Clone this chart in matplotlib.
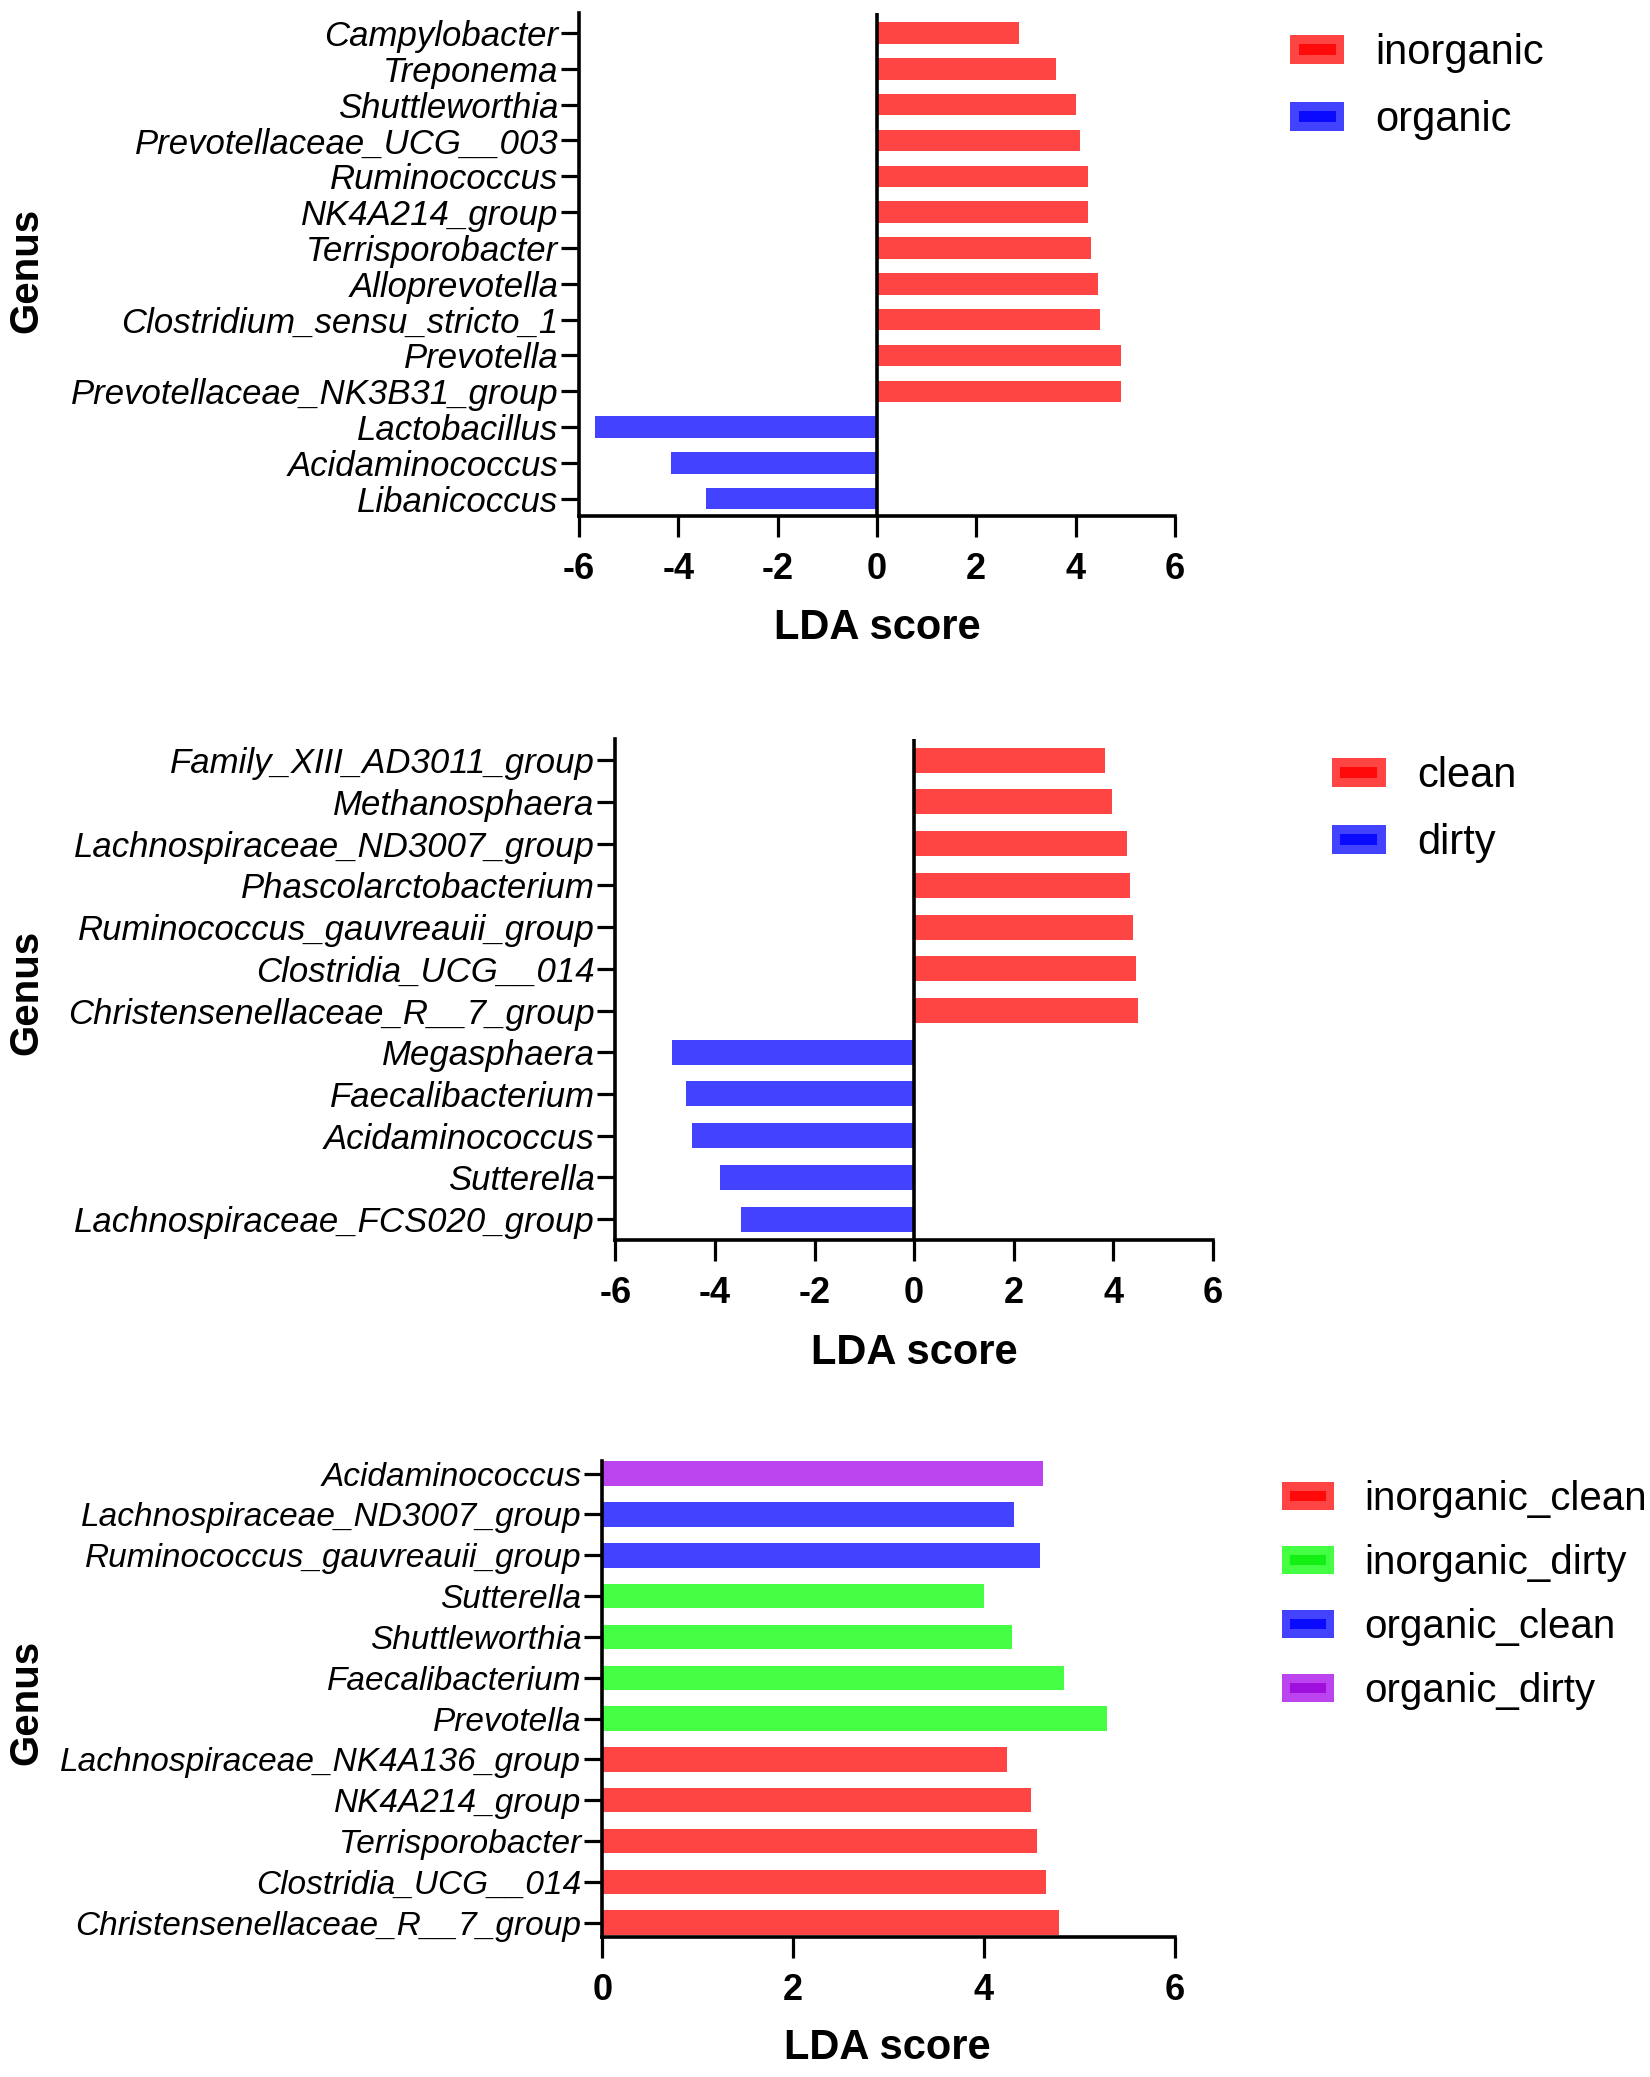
import matplotlib
matplotlib.use("Agg")
import matplotlib.pyplot as plt
from matplotlib.patches import Patch, Rectangle

plt.rcParams['font.family'] = ['Liberation Sans', 'DejaVu Sans']
plt.rcParams['axes.unicode_minus'] = False

# --- Данные (сверху вниз, как на рисунке) ---
top_genus = ["Campylobacter", "Treponema", "Shuttleworthia", "Prevotellaceae_UCG__003",
             "Ruminococcus", "NK4A214_group", "Terrisporobacter", "Alloprevotella",
             "Clostridium_sensu_stricto_1", "Prevotella", "Prevotellaceae_NK3B31_group",
             "Lactobacillus", "Acidaminococcus", "Libanicoccus"]
top_lda = [2.86, 3.6, 4.0, 4.1, 4.25, 4.25, 4.32, 4.45, 4.5, 4.92, 4.92, -5.69, -4.14, -3.45]
top_groups = ["inorganic", "organic"]

mid_genus = ["Family_XIII_AD3011_group", "Methanosphaera", "Lachnospiraceae_ND3007_group",
             "Phascolarctobacterium", "Ruminococcus_gauvreauii_group", "Clostridia_UCG__014",
             "Christensenellaceae_R__7_group", "Megasphaera", "Faecalibacterium",
             "Acidaminococcus", "Sutterella", "Lachnospiraceae_FCS020_group"]
mid_lda = [3.83, 3.98, 4.27, 4.33, 4.39, 4.46, 4.5, -4.86, -4.58, -4.46, -3.9, -3.47]
mid_groups = ["clean", "dirty"]

bot_genus = ["Acidaminococcus", "Lachnospiraceae_ND3007_group", "Ruminococcus_gauvreauii_group",
             "Sutterella", "Shuttleworthia", "Faecalibacterium", "Prevotella",
             "Lachnospiraceae_NK4A136_group", "NK4A214_group", "Terrisporobacter",
             "Clostridia_UCG__014", "Christensenellaceae_R__7_group"]
bot_lda = [4.62, 4.31, 4.59, 4.0, 4.29, 4.84, 5.29, 4.24, 4.49, 4.56, 4.65, 4.79]
bot_class = ["organic_dirty", "organic_clean", "organic_clean",
             "inorganic_dirty", "inorganic_dirty", "inorganic_dirty", "inorganic_dirty",
             "inorganic_clean", "inorganic_clean", "inorganic_clean", "inorganic_clean",
             "inorganic_clean"]
bot_groups = ["inorganic_clean", "inorganic_dirty", "organic_clean", "organic_dirty"]

# цвета: (заливка, внутренняя полоса в легенде)
RED = ('#ff4444', '#ff0a0a')
BLUE = ('#4343ff', '#0a0aff')
GREEN = ('#44ff44', '#14f014')
PURPLE = ('#bb44ee', '#a010dd')
bot_colors = {"inorganic_clean": RED, "inorganic_dirty": GREEN,
              "organic_clean": BLUE, "organic_dirty": PURPLE}


class BoxHandler:
    """Прямоугольник с тёмной полосой внутри, как в GraphPad."""
    def legend_artist(self, legend, orig_handle, fontsize, handlebox):
        x0, y0 = handlebox.xdescent, handlebox.ydescent
        w, h = handlebox.width, handlebox.height
        tr = handlebox.get_transform()
        outer = Rectangle((x0, y0), w, h, facecolor=orig_handle.get_facecolor(),
                          edgecolor='none', transform=tr)
        inner = Rectangle((x0 + 0.16 * w, y0 + 0.32 * h), 0.68 * w, 0.36 * h,
                          facecolor=orig_handle.get_edgecolor(), edgecolor='none', transform=tr)
        handlebox.add_artist(outer)
        handlebox.add_artist(inner)
        return outer


def style_axes(ax, genus, xlim, ylim, xticks, yfs=25):
    n = len(genus)
    ax.set_yticks(range(n))
    ax.set_yticklabels(genus[::-1], fontstyle='italic', fontsize=yfs)
    ax.set_xlim(*xlim)
    ax.set_ylim(*ylim)
    ax.set_xticks(xticks)
    ax.set_xticklabels([str(t) for t in xticks], fontweight='bold', fontsize=26)
    for s in ['top', 'right']:
        ax.spines[s].set_visible(False)
    for s in ['left', 'bottom']:
        ax.spines[s].set_linewidth(2.6)
    ax.tick_params(axis='y', length=13, width=2.3, pad=2)
    ax.tick_params(axis='x', length=15, width=2.3, pad=11)


def add_legend(fig, labels, colors, x, y, fs):
    handles = [Patch(facecolor=c[0], edgecolor=c[1]) for c in colors]
    fig.legend(handles, labels, loc='upper left', bbox_to_anchor=(x, y),
               bbox_transform=fig.transFigure, frameon=False, fontsize=fs,
               handler_map={Patch: BoxHandler()}, handlelength=1.3, handleheight=0.7,
               handletextpad=0.75, labelspacing=0.65, borderpad=0, borderaxespad=0)


fig = plt.figure(figsize=(16.5, 20.77), dpi=100)

# --- Панель 1 ---
ax1 = fig.add_axes([0.351, 0.7516, 0.361, 0.242])
n = len(top_genus)
ax1.barh([n - 1 - i for i in range(n)], top_lda, height=0.6,
         color=[RED[0] if v > 0 else BLUE[0] for v in top_lda])
ax1.axvline(0, color='black', lw=2.6)
style_axes(ax1, top_genus, (-6, 6), (-0.48, 13.55), [-6, -4, -2, 0, 2, 4, 6])
add_legend(fig, top_groups, [RED, BLUE], 0.782, 0.984, 30)

# --- Панель 2 ---
ax2 = fig.add_axes([0.373, 0.403, 0.362, 0.241])
n = len(mid_genus)
ax2.barh([n - 1 - i for i in range(n)], mid_lda, height=0.6,
         color=[RED[0] if v > 0 else BLUE[0] for v in mid_lda])
ax2.axvline(0, color='black', lw=2.6)
style_axes(ax2, mid_genus, (-6, 6), (-0.5, 11.5), [-6, -4, -2, 0, 2, 4, 6])
add_legend(fig, mid_groups, [RED, BLUE], 0.807, 0.636, 30)

# --- Панель 3 ---
ax3 = fig.add_axes([0.365, 0.0674, 0.347, 0.229])
n = len(bot_genus)
ax3.barh([n - 1 - i for i in range(n)], bot_lda, height=0.6,
         color=[bot_colors[c][0] for c in bot_class])
style_axes(ax3, bot_genus, (0, 6), (-0.35, 11.3), [0, 2, 4, 6], yfs=24)
add_legend(fig, bot_groups, [bot_colors[g] for g in bot_groups], 0.777, 0.2875, 29)

# --- Подписи осей ---
for y in [0.870, 0.522, 0.1805]:
    fig.text(0.016, y, "Genus", rotation=90, ha='center', va='center',
             fontsize=29, fontweight='bold')
for x, y in [(0.5315, 0.6975), (0.554, 0.3485), (0.5376, 0.0138)]:
    fig.text(x, y, "LDA score", ha='center', va='center', fontsize=30, fontweight='bold')

fig.savefig("out.png", dpi=100, facecolor='white')
